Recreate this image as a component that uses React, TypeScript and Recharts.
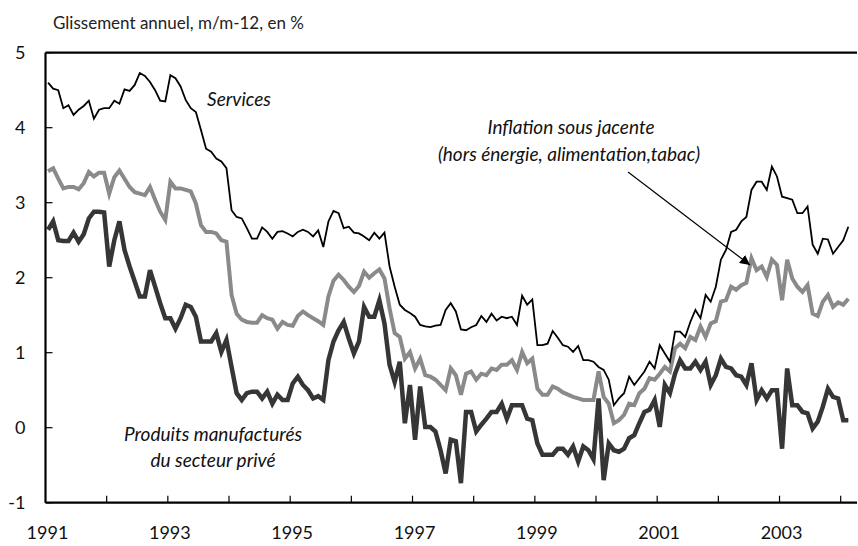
import React from 'react';
import { LineChart, Line, XAxis, YAxis, ReferenceLine } from 'recharts';

// glissement annuel (m/m-12), une valeur par mois, janv. 1991 -> févr. 2004
const services = [
  4.6, 4.52, 4.5, 4.26, 4.3, 4.17, 4.24, 4.29, 4.36, 4.12, 4.24, 4.26,
  4.26, 4.36, 4.32, 4.51, 4.49, 4.57, 4.73, 4.69, 4.61, 4.5, 4.36, 4.35,
  4.7, 4.66, 4.55, 4.37, 4.26, 4.21, 3.97, 3.72, 3.68, 3.59, 3.55, 3.46,
  2.9, 2.81, 2.79, 2.66, 2.52, 2.52, 2.67, 2.61, 2.52, 2.61, 2.62, 2.59,
  2.55, 2.61, 2.64, 2.61, 2.55, 2.63, 2.41, 2.75, 2.89, 2.86, 2.66, 2.68,
  2.6, 2.59, 2.55, 2.5, 2.6, 2.52, 2.6, 2.15, 1.88, 1.64, 1.57, 1.53,
  1.48, 1.37, 1.35, 1.34, 1.36, 1.37, 1.57, 1.66, 1.55, 1.31, 1.3, 1.34,
  1.37, 1.49, 1.41, 1.52, 1.43, 1.48, 1.46, 1.48, 1.37, 1.76, 1.64, 1.71,
  1.1, 1.1, 1.12, 1.29, 1.2, 1.1, 1.08, 1.01, 1.09, 0.9, 0.9, 0.88,
  0.81, 0.77, 0.64, 0.3, 0.39, 0.46, 0.68, 0.57, 0.66, 0.75, 0.88, 0.79,
  1.1, 0.99, 0.88, 1.28, 1.28, 1.21, 1.41, 1.57, 1.46, 1.77, 1.68, 1.88,
  2.24, 2.37, 2.61, 2.64, 2.75, 2.81, 3.17, 3.28, 3.28, 3.17, 3.48, 3.35,
  3.08, 3.06, 3.04, 2.86, 2.86, 2.95, 2.44, 2.32, 2.52, 2.51, 2.32, 2.41,
  2.5, 2.68,
];

const sousJacente = [
  3.42, 3.46, 3.32, 3.19, 3.21, 3.21, 3.18, 3.26, 3.41, 3.35, 3.4, 3.4,
  3.12, 3.34, 3.43, 3.32, 3.21, 3.14, 3.12, 3.1, 3.21, 3.04, 2.88, 2.77,
  3.28, 3.19, 3.19, 3.17, 3.15, 2.99, 2.7, 2.61, 2.61, 2.59, 2.5, 2.48,
  1.77, 1.52, 1.44, 1.41, 1.4, 1.4, 1.5, 1.46, 1.44, 1.32, 1.41, 1.37,
  1.36, 1.49, 1.55, 1.5, 1.46, 1.42, 1.37, 1.75, 1.96, 2.04, 1.97, 1.88,
  1.81, 1.89, 2.08, 2.0, 2.06, 2.11, 1.99, 1.59, 1.26, 1.21, 0.92, 1.01,
  0.79, 0.92, 0.7, 0.68, 0.64, 0.57, 0.5, 0.79, 0.7, 0.44, 0.72, 0.75,
  0.64, 0.72, 0.7, 0.79, 0.77, 0.84, 0.84, 0.9, 0.77, 1.01, 0.86, 0.92,
  0.52, 0.44, 0.44, 0.55, 0.52, 0.47, 0.44, 0.41, 0.39, 0.37, 0.37, 0.37,
  0.75, 0.41, 0.32, 0.06, 0.1, 0.17, 0.32, 0.3, 0.46, 0.52, 0.66, 0.64,
  0.72, 0.81, 0.75, 1.06, 1.12, 1.06, 1.21, 1.17, 1.35, 1.21, 1.39, 1.42,
  1.68, 1.7, 1.88, 1.84, 1.9, 1.93, 2.26, 2.1, 2.15, 2.01, 2.24, 2.17,
  1.7, 2.24, 1.99, 1.88, 1.81, 1.9, 1.52, 1.49, 1.68, 1.77, 1.61, 1.67,
  1.64, 1.72,
];

const manufactures = [
  2.64, 2.75, 2.5, 2.49, 2.49, 2.6, 2.48, 2.58, 2.79, 2.88, 2.88, 2.87,
  2.15, 2.5, 2.75, 2.37, 2.15, 1.95, 1.75, 1.75, 2.1, 1.88, 1.66, 1.46,
  1.46, 1.32, 1.46, 1.64, 1.61, 1.48, 1.15, 1.15, 1.15, 1.26, 1.01, 1.17,
  0.81, 0.46, 0.37, 0.46, 0.48, 0.48, 0.39, 0.48, 0.32, 0.44, 0.37, 0.37,
  0.59, 0.68, 0.57, 0.5, 0.39, 0.42, 0.37, 0.9, 1.15, 1.3, 1.41, 1.19,
  0.99, 1.15, 1.61, 1.48, 1.48, 1.7, 1.39, 0.84, 0.61, 0.88, 0.06, 0.57,
  -0.16, 0.55, 0.01, 0.01, -0.05, -0.3, -0.61, -0.16, -0.18, -0.74, 0.21, 0.21,
  -0.05, 0.04, 0.12, 0.21, 0.21, 0.32, 0.12, 0.3, 0.3, 0.3, 0.12, 0.1,
  -0.21, -0.36, -0.36, -0.36, -0.28, -0.28, -0.36, -0.25, -0.45, -0.25, -0.3, -0.42,
  0.39, -0.7, -0.21, -0.3, -0.32, -0.28, -0.14, -0.1, 0.06, 0.21, 0.24, 0.37,
  0.01, 0.57, 0.46, 0.72, 0.9, 0.79, 0.79, 0.88, 0.77, 0.88, 0.57, 0.7,
  0.92, 0.81, 0.79, 0.7, 0.68, 0.57, 0.86, 0.37, 0.5, 0.39, 0.5, 0.5,
  -0.28, 0.79, 0.3, 0.3, 0.21, 0.19, -0.01, 0.08, 0.28, 0.52, 0.41, 0.39,
  0.1, 0.1,
];

const firstYear = 1991;
const yearTicks = Array.from({ length: 14 }, (_, k) => 12 * k - 0.5);
const yTicks = [-1, 0, 1, 2, 3, 4, 5];

const data = services.map((v, i) => ({
  m: i,
  services: v,
  sousJacente: sousJacente[i],
  manufactures: manufactures[i],
}));

const FONT = 'Lato, "Open Sans", sans-serif';

const YTick = (props: any) => {
  const { x, y, payload } = props;
  return (
    <g>
      <line x1={x} x2={x + 7} y1={y} y2={y} stroke="#000" strokeWidth={1.2} />
      <text x={x - 20} y={y} dy={6} textAnchor="end" fontSize={18} fontFamily={FONT} fill="#111">
        {payload.value}
      </text>
    </g>
  );
};

const XTick = (props: any) => {
  const { x, y, payload } = props;
  const k = Math.round((payload.value + 0.5) / 12);
  return (
    <g>
      {k > 0 && <line x1={x} x2={x} y1={y} y2={y - 7} stroke="#000" strokeWidth={1.2} />}
      {k % 2 === 0 && (
        <text x={x + 2} y={y + 36} textAnchor="middle" fontSize={18} fontFamily={FONT} fill="#111">
          {firstYear + k}
        </text>
      )}
    </g>
  );
};

export default function App() {
  return (
    <div style={{ position: 'absolute', left: 0, top: 0, width: 858, height: 546, background: '#fff' }}>
      <LineChart
        width={858}
        height={546}
        data={data}
        margin={{ top: 52.7, right: 1, bottom: 13.3, left: 0 }}
      >
        <XAxis
          dataKey="m"
          type="number"
          domain={[-0.5, 158.7]}
          ticks={yearTicks}
          interval={0}
          height={30}
          tickSize={0}
          tickMargin={0}
          tickLine={false}
          axisLine={{ stroke: '#000', strokeWidth: 2.2 }}
          tick={<XTick />}
        />
        <YAxis
          type="number"
          domain={[-1, 5]}
          ticks={yTicks}
          interval={0}
          width={45.5}
          tickSize={0}
          tickMargin={0}
          tickLine={false}
          axisLine={{ stroke: '#000', strokeWidth: 2.2 }}
          tick={<YTick />}
        />
        <ReferenceLine y={5} stroke="#000" strokeWidth={2.2} />
        <Line
          dataKey="sousJacente"
          stroke="#8a8a8a"
          strokeWidth={4}
          dot={false}
          type="linear"
          isAnimationActive={false}
        />
        <Line
          dataKey="manufactures"
          stroke="#363636"
          strokeWidth={4.5}
          dot={false}
          type="linear"
          isAnimationActive={false}
        />
        <Line
          dataKey="services"
          stroke="#000"
          strokeWidth={1.8}
          dot={false}
          type="linear"
          isAnimationActive={false}
        />
      </LineChart>
      <svg
        width={858}
        height={546}
        style={{ position: 'absolute', left: 0, top: 0, pointerEvents: 'none' }}
        fontFamily={FONT}
      >
        <defs>
          <marker id="tip" viewBox="0 0 10 10" refX="10" refY="5" markerWidth="10" markerHeight="10" orient="auto" markerUnits="userSpaceOnUse">
            <path d="M0,0 L10,5 L0,10 z" fill="#000" />
          </marker>
        </defs>
        <text x={53} y={29} fontSize={17} fill="#222">Glissement annuel, m/m-12, en %</text>
        <text x={239} y={106} fontSize={19} fontStyle="italic" textAnchor="middle" fill="#111">Services</text>
        <text x={571} y={134} fontSize={19} fontStyle="italic" textAnchor="middle" fill="#111">Inflation sous jacente</text>
        <text x={569} y={161} fontSize={19} fontStyle="italic" textAnchor="middle" fill="#111">(hors énergie, alimentation,tabac)</text>
        <text x={213} y={441} fontSize={19} fontStyle="italic" textAnchor="middle" fill="#111">Produits manufacturés</text>
        <text x={213} y={467} fontSize={19} fontStyle="italic" textAnchor="middle" fill="#111">du secteur privé</text>
        <line x1={628} y1={172} x2={750} y2={265} stroke="#000" strokeWidth={1.2} markerEnd="url(#tip)" />
      </svg>
    </div>
  );
}
